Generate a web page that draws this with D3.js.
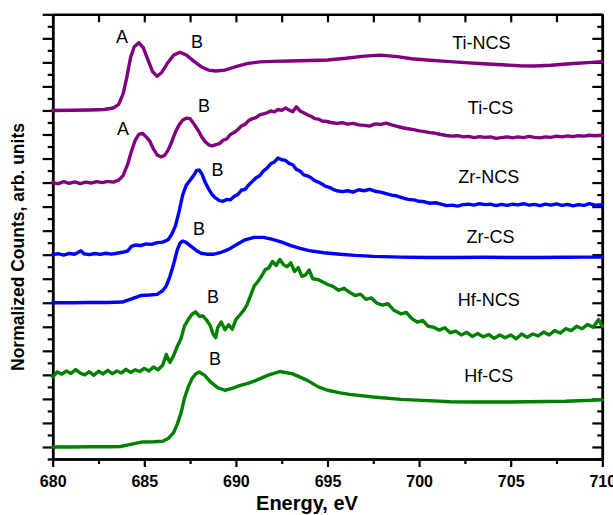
<!DOCTYPE html>
<html>
<head>
<meta charset="utf-8">
<script src="https://cdn.jsdelivr.net/npm/d3@7"></script>
<style>
  body { margin: 0; background: #fff; }
  svg { display: block; font-family: "Liberation Sans", Arial, sans-serif; }
  .frame path.domain { stroke: #000; stroke-width: 2.5; }
  .frame line { stroke: #000; stroke-width: 2.2; }
  .line { fill: none; stroke-width: 3.4; stroke-linejoin: round; stroke-linecap: round; }
</style>
</head>
<body>
<script>
// spectra: [energy eV, intensity above own baseline]
const hfCs = [[680,0],[681,0.0],[682,0.01],[683,0.01],[683.7,0.02],[684.2,0.1],[684.9,0.21],[685.5,0.22],[686.0,0.24],[686.3,0.35],[686.6,0.6],[686.8,0.95],[687.0,1.4],[687.2,2.05],[687.4,2.5],[687.6,2.84],[687.8,3.04],[688.0,3.12],[688.3,2.98],[688.6,2.72],[689.0,2.47],[689.4,2.36],[689.8,2.44],[690.2,2.55],[690.7,2.66],[691.1,2.77],[691.8,3.0],[692.4,3.14],[693.1,3.04],[693.9,2.77],[694.5,2.5],[695.0,2.36],[695.7,2.25],[696.2,2.19],[697.5,2.08],[699.0,1.98],[700.5,1.93],[701.7,1.88],[703,1.87],[704.4,1.87],[706,1.88],[708,1.9],[710,1.96]];

const hfNcs = [[680,-0.08],[680.25,0.12],[680.5,0.03],[680.75,0.16],[681,0.06],[681.25,0.22],[681.5,0.08],[681.75,0.0],[682,0.13],[682.25,-0.02],[682.5,0.15],[682.75,0.04],[683,0.19],[683.25,0.05],[683.5,0.16],[683.75,0.08],[684,0.23],[684.25,0.1],[684.5,0.21],[684.75,0.14],[685,0.27],[685.25,0.16],[685.5,0.33],[685.75,0.21],[686.0,0.4],[686.2,0.85],[686.4,0.52],[686.6,0.8],[686.8,1.18],[687.0,1.5],[687.2,2.05],[687.4,2.3],[687.6,2.52],[687.8,2.62],[688.0,2.44],[688.2,2.45],[688.4,2.28],[688.6,2.05],[688.75,1.7],[688.9,1.55],[689.0,1.95],[689.2,2.2],[689.4,1.88],[689.6,2.08],[689.8,1.9],[690.0,2.3],[690.2,2.48],[690.4,2.66],[690.6,2.9],[690.8,3.3],[691.0,3.7],[691.2,3.88],[691.4,4.1],[691.6,4.38],[691.8,4.45],[692.0,4.72],[692.2,4.55],[692.4,4.8],[692.6,4.58],[692.8,4.5],[693.0,4.66],[693.2,4.3],[693.4,4.46],[693.6,4.1],[693.8,4.16],[694.0,4.36],[694.2,4.0],[694.5,3.96],[694.8,3.84],[695.0,3.76],[695.3,3.68],[695.6,3.52],[695.9,3.6],[696.2,3.44],[696.5,3.3],[696.8,3.36],[697.1,3.14],[697.4,3.2],[697.7,2.98],[698.0,2.9],[698.3,2.96],[698.6,2.7],[699.0,2.54],[699.3,2.6],[699.6,2.34],[699.9,2.2],[700.2,2.26],[700.5,2.02],[700.8,1.98],[701.1,1.86],[701.4,1.96],[701.7,1.75],[702.0,1.82],[702.3,1.66],[702.6,1.77],[702.9,1.6],[703.2,1.72],[703.5,1.58],[703.8,1.68],[704.1,1.52],[704.4,1.66],[704.7,1.54],[705.0,1.66],[705.3,1.5],[705.6,1.7],[705.9,1.56],[706.2,1.7],[706.5,1.62],[706.8,1.78],[707.1,1.66],[707.4,1.84],[707.7,1.74],[708.0,1.92],[708.3,1.84],[708.6,2.02],[708.9,1.92],[709.2,2.1],[709.5,1.98],[709.8,2.3],[710,2.02]];

const zrCs = [[680,0],[681,0.0],[682,0.01],[683,0.01],[683.8,0.03],[684.3,0.16],[684.8,0.3],[685.3,0.32],[685.7,0.35],[686.0,0.5],[686.2,0.7],[686.4,1.1],[686.6,1.6],[686.8,2.2],[686.95,2.48],[687.1,2.57],[687.3,2.5],[687.5,2.38],[687.7,2.26],[687.9,2.14],[688.1,2.06],[688.4,2.02],[688.8,2.02],[689.2,2.1],[689.6,2.22],[690.0,2.4],[690.5,2.62],[691.0,2.72],[691.5,2.72],[692.0,2.64],[692.5,2.52],[693.0,2.38],[693.5,2.26],[694.0,2.17],[694.8,2.08],[695.7,2.02],[696.5,1.97],[697.5,1.93],[699,1.9],[700.5,1.88],[702,1.88],[703.5,1.89],[705,1.88],[706.5,1.88],[708,1.89],[709,1.9],[710,1.9]];

const zrNcs = [[680,0],[680.3,0.04],[680.6,-0.02],[680.9,0.05],[681.2,0.02],[681.4,0.1],[681.55,0.16],[681.7,0.04],[682,0.0],[682.3,0.05],[682.6,0.01],[682.9,0.06],[683.2,0.02],[683.5,0.06],[683.8,0.1],[684.1,0.16],[684.3,0.35],[684.5,0.4],[684.8,0.38],[685.1,0.45],[685.4,0.43],[685.7,0.5],[686,0.52],[686.3,0.62],[686.5,0.85],[686.7,1.2],[686.9,1.8],[687.1,2.5],[687.3,2.9],[687.5,3.1],[687.7,3.3],[687.85,3.5],[688.0,3.52],[688.15,3.35],[688.3,3.05],[688.5,2.75],[688.7,2.5],[688.9,2.35],[689.1,2.25],[689.3,2.22],[689.5,2.3],[689.7,2.28],[689.9,2.42],[690.1,2.5],[690.3,2.68],[690.5,2.72],[690.7,2.9],[690.9,3.05],[691.1,3.2],[691.3,3.28],[691.5,3.48],[691.7,3.6],[691.9,3.78],[692.1,3.86],[692.3,4.02],[692.5,3.95],[692.7,3.92],[692.9,3.8],[693.1,3.74],[693.3,3.55],[693.5,3.48],[693.7,3.32],[693.9,3.28],[694.1,3.2],[694.3,3.08],[694.5,3.02],[694.7,2.94],[694.9,2.84],[695.1,2.8],[695.3,2.72],[695.5,2.66],[695.8,2.62],[696.1,2.66],[696.4,2.6],[696.7,2.7],[697,2.66],[697.3,2.72],[697.6,2.64],[697.9,2.6],[698.2,2.54],[698.5,2.48],[698.8,2.44],[699.1,2.36],[699.4,2.3],[699.7,2.28],[700,2.22],[700.3,2.2],[700.6,2.14],[700.9,2.16],[701.2,2.1],[701.5,2.04],[701.8,2.06],[702.1,2.02],[702.4,2.08],[702.7,2.1],[703,2.06],[703.3,2.12],[703.6,2.08],[703.9,2.1],[704.2,2.04],[704.5,2.09],[704.8,2.05],[705.1,2.1],[705.4,2.07],[705.7,2.12],[706,2.06],[706.3,2.09],[706.6,2.04],[706.9,2.1],[707.2,2.06],[707.5,2.11],[707.8,2.05],[708.1,2.09],[708.4,2.03],[708.7,2.08],[709,2.05],[709.3,2.12],[709.6,2.06],[710,2.08]];

const tiCs = [[680,0],[680.3,-0.05],[680.6,0.04],[680.9,-0.03],[681.2,0.03],[681.5,-0.04],[681.8,0.02],[682.1,-0.02],[682.4,0.04],[682.7,0.0],[683,0.05],[683.3,0.02],[683.6,0.1],[683.85,0.3],[684.1,0.78],[684.3,1.3],[684.5,1.75],[684.7,2.0],[684.9,2.05],[685.1,1.9],[685.3,1.72],[685.5,1.4],[685.7,1.15],[685.9,1.07],[686.1,1.12],[686.3,1.35],[686.5,1.7],[686.7,2.1],[686.9,2.4],[687.1,2.6],[687.3,2.68],[687.5,2.66],[687.7,2.45],[687.9,2.22],[688.1,1.95],[688.3,1.72],[688.5,1.58],[688.7,1.52],[688.9,1.58],[689.1,1.62],[689.3,1.76],[689.5,1.82],[689.7,2.0],[689.9,2.08],[690.1,2.2],[690.3,2.35],[690.5,2.42],[690.7,2.58],[690.9,2.66],[691.1,2.7],[691.3,2.82],[691.5,2.86],[691.7,2.9],[691.9,2.98],[692.1,2.94],[692.3,3.04],[692.5,3.0],[692.7,3.1],[692.9,3.02],[693.1,2.95],[693.3,3.15],[693.5,2.98],[693.7,2.9],[693.9,2.82],[694.1,2.76],[694.3,2.66],[694.5,2.64],[694.7,2.56],[694.9,2.55],[695.2,2.5],[695.5,2.46],[695.8,2.49],[696.1,2.43],[696.4,2.46],[696.7,2.4],[697,2.38],[697.3,2.35],[697.6,2.44],[697.9,2.42],[698.2,2.47],[698.5,2.4],[698.8,2.34],[699.1,2.28],[699.4,2.24],[699.7,2.2],[700,2.15],[700.3,2.12],[700.6,2.08],[700.9,2.05],[701.2,2.0],[701.5,1.96],[701.8,1.93],[702.1,1.95],[702.4,1.9],[702.7,1.92],[703,1.87],[703.3,1.91],[703.6,1.88],[703.9,1.9],[704.2,1.84],[704.5,1.87],[704.8,1.9],[705.1,1.86],[705.4,1.9],[705.7,1.87],[706,1.92],[706.3,1.88],[706.6,1.86],[706.9,1.9],[707.2,1.88],[707.5,1.93],[707.8,1.9],[708.1,1.94],[708.4,1.91],[708.7,1.95],[709,1.93],[709.3,1.97],[709.6,1.94],[710,1.97]];

const tiNcs = [[680,0],[681,0.01],[682,0.02],[682.8,0.04],[683.3,0.1],[683.6,0.25],[683.85,0.7],[684.05,1.4],[684.25,2.2],[684.45,2.65],[684.7,2.82],[684.95,2.6],[685.2,2.1],[685.45,1.62],[685.7,1.42],[685.95,1.58],[686.25,1.95],[686.6,2.3],[686.95,2.42],[687.3,2.3],[687.7,2.05],[688.1,1.82],[688.5,1.68],[688.9,1.64],[689.4,1.68],[690,1.82],[690.6,1.95],[691.3,2.02],[692,2.04],[693,2.06],[694,2.08],[695,2.1],[696,2.17],[697,2.26],[697.9,2.3],[698.8,2.24],[699.6,2.15],[700.4,2.1],[701.5,2.04],[702.5,1.99],[703.5,1.94],[704.5,1.9],[705.5,1.86],[706.3,1.85],[707.2,1.88],[708.2,1.94],[709.2,1.99],[710,2.03]];

const seriesNames = ["Hf-CS", "Hf-NCS", "Zr-CS", "Zr-NCS", "Ti-CS", "Ti-NCS"];
const seriesData = [hfCs, hfNcs, zrCs, zrNcs, tiCs, tiNcs];
const seriesOffsets = [0, 3, 6, 8, 11, 14];
const seriesColors = ["#008000", "#008000", "#0000ff", "#0000ff", "#800080", "#800080"];

// sample name labels [energy, y]
const nameLabelPos = [[703.8, 2.95], [703.8, 6.11], [703.9, 8.73], [703.8, 11.26], [703.9, 14.13], [703.4, 16.83]];

// peak letters
const peakLetters = ["A", "A", "B", "B", "B", "B", "B", "B"];
const peakPos = [[683.78, 17.08], [683.84, 13.26], [687.88, 16.87], [688.26, 14.21], [689.0, 11.55], [687.99, 9.06], [688.75, 6.27], [688.86, 3.66]];

const xMajor = [680, 685, 690, 695, 700, 705, 710];
const xMinor = [682.5, 687.5, 692.5, 697.5, 702.5, 707.5];
const yMajor = d3.range(0, 19, 1);
const yMinor = d3.range(-0.5, 18, 1);

let margin = null, width = null, height = null;
let svg = null;
let x, y = null;

setupCanvasSize();
appendSvg("body");
setupScales();
appendFrame();
appendLines();
appendLabels();
appendTitles();

function setupCanvasSize() {
  margin = {top: 14.3, left: 52.7, bottom: 56, right: 10.7};
  width = 613 - margin.left - margin.right;
  height = 515 - margin.top - margin.bottom;
}

function appendSvg(domElement) {
  svg = d3.select(domElement).append("svg")
    .attr("width", 613)
    .attr("height", 515)
    .append("g")
    .attr("transform", `translate(${margin.left}, ${margin.top})`);
}

function setupScales() {
  x = d3.scaleLinear().domain([680, 710]).range([0, width]);
  y = d3.scaleLinear().domain([-0.5, 18]).range([height, 0]);
}

function appendFrame() {
  // bottom axis with labels
  svg.append("g").attr("class", "frame")
    .attr("transform", `translate(0, ${height})`)
    .call(d3.axisBottom(x).tickValues(xMinor).tickSize(5).tickSizeOuter(0).tickFormat(""));
  let bx = svg.append("g").attr("class", "frame")
    .attr("transform", `translate(0, ${height})`)
    .call(d3.axisBottom(x).tickValues(xMajor).tickSize(8).tickSizeOuter(0).tickFormat(d3.format("d")));
  bx.selectAll("text")
    .attr("y", 17)
    .style("font-size", "16px")
    .style("font-weight", "bold")
    .style("font-family", "'Liberation Sans', Arial, sans-serif")
    .attr("fill", "#000");

  // top axis, ticks inward
  svg.append("g").attr("class", "frame")
    .call(d3.axisTop(x).tickValues(xMajor.concat(xMinor)).tickSize(-8).tickSizeOuter(0).tickFormat(""));

  // left axis, ticks outward
  svg.append("g").attr("class", "frame")
    .call(d3.axisLeft(y).tickValues(yMinor).tickSize(5).tickSizeOuter(0).tickFormat(""));
  svg.append("g").attr("class", "frame")
    .call(d3.axisLeft(y).tickValues(yMajor).tickSize(10).tickSizeOuter(0).tickFormat(""));

  // right axis, ticks inward
  svg.append("g").attr("class", "frame")
    .attr("transform", `translate(${width}, 0)`)
    .call(d3.axisRight(y).tickValues(yMinor).tickSize(-5).tickSizeOuter(0).tickFormat(""));
  svg.append("g").attr("class", "frame")
    .attr("transform", `translate(${width}, 0)`)
    .call(d3.axisRight(y).tickValues(yMajor).tickSize(-10).tickSizeOuter(0).tickFormat(""));
}

function appendLines() {
  seriesData.forEach((data, i) => {
    let line = d3.line()
      .x(d => x(d[0]))
      .y(d => y(d[1] + seriesOffsets[i]));
    svg.append("path")
      .datum(data)
      .attr("class", "line")
      .attr("stroke", seriesColors[i])
      .attr("d", line);
  });
}

function appendLabels() {
  svg.selectAll(".name")
    .data(seriesNames)
    .enter().append("text")
    .attr("class", "name")
    .attr("x", (d, i) => x(nameLabelPos[i][0]))
    .attr("y", (d, i) => y(nameLabelPos[i][1]))
    .attr("dy", "0.35em")
    .attr("text-anchor", "middle")
    .style("font-size", "18px")
    .text(d => d);

  svg.selectAll(".peak")
    .data(peakLetters)
    .enter().append("text")
    .attr("class", "peak")
    .attr("x", (d, i) => x(peakPos[i][0]))
    .attr("y", (d, i) => y(peakPos[i][1]))
    .attr("dy", "0.35em")
    .attr("text-anchor", "middle")
    .style("font-size", "18px")
    .text(d => d);
}

function appendTitles() {
  svg.append("text")
    .attr("x", 307 - margin.left)
    .attr("y", 510 - margin.top)
    .attr("text-anchor", "middle")
    .style("font-size", "20px")
    .style("font-weight", "bold")
    .text("Energy, eV");

  svg.append("text")
    .attr("transform", `translate(${24 - margin.left}, ${247 - margin.top}) rotate(-90)`)
    .attr("text-anchor", "middle")
    .style("font-size", "17.5px")
    .style("font-weight", "bold")
    .text("Normalized Counts, arb. units");
}
</script>
</body>
</html>
